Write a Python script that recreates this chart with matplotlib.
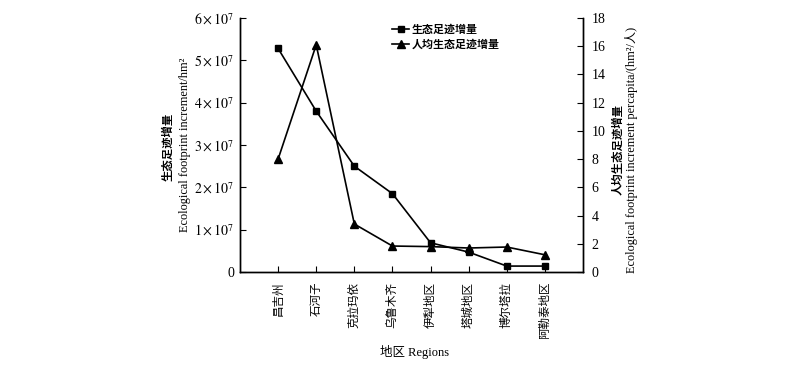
import numpy as np
import matplotlib.pyplot as plt
from matplotlib.ticker import FuncFormatter

# data
regions = ['昌吉州', '石河子', '克拉玛依', '乌鲁木齐', '伊犁地区', '塔城地区', '博尔塔拉', '阿勒泰地区']
total_inc = [5.28e7, 3.80e7, 2.50e7, 1.85e7, 0.69e7, 0.47e7, 0.14e7, 0.14e7]
percap_inc = [8.0, 16.1, 3.4, 1.84, 1.8, 1.7, 1.77, 1.22]

plt.rcParams['font.family'] = ['Liberation Serif', 'Noto Sans CJK SC', 'DejaVu Sans']
plt.rcParams['mathtext.fontset'] = 'stix'
plt.rcParams['font.size'] = 9

fig = plt.figure(figsize=(8, 3.71), dpi=100)
ax = fig.add_axes([240/800, 1 - 272/371, 343/800, 254/371])
ax2 = ax.twinx()

x = np.arange(len(regions))
l1, = ax.plot(x, total_inc, color='black', marker='s', ms=5, lw=1.2, label='生态足迹增量')
l2, = ax2.plot(x, percap_inc, color='black', marker='^', ms=6, lw=1.2, label='人均生态足迹增量')

ax.set_xlim(-1, 8)
ax.set_ylim(0, 6e7)
ax.set_yticks(np.arange(0, 7e7, 1e7))
ax.yaxis.set_major_formatter(FuncFormatter(
    lambda v, p: '0' if v == 0 else r'$%d\times10^{7}$' % round(v / 1e7)))
ax2.set_ylim(0, 18)
ax2.set_yticks(np.arange(0, 19, 2))

ax.set_xticks(x)
ax.set_xticklabels(regions, rotation=90, ha='center', va='top', fontsize=8.3)
ax.tick_params(axis='x', direction='in', length=4, pad=7)
ax.tick_params(axis='y', direction='in', length=4, pad=4, labelsize=10)
ax2.tick_params(axis='y', direction='in', length=4, pad=6, labelsize=10)

for a in (ax, ax2):
    a.spines['top'].set_visible(False)
    for s in a.spines.values():
        s.set_linewidth(1.0)

fig.text(415/800, 1 - 352/371, '地区 Regions', ha='center', va='center', fontsize=9)

# y labels, two lines each
fig.text(168/800, 1 - 147/371, '生态足迹增量', rotation=90, ha='center', va='center',
         fontsize=8.2, fontweight='bold')
fig.text(185/800, 1 - 145/371, 'Ecological footprint increment/hm²', rotation=90,
         ha='center', va='center', fontsize=8.8)
fig.text(618/800, 1 - 150/371, '人均生态足迹增量', rotation=90, ha='center', va='center',
         fontsize=8.2, fontweight='bold')
fig.text(632/800, 1 - 150/371, 'Ecological footprint increment percapita/(hm²/人)',
         rotation=90, ha='center', va='center', fontsize=8.8)

ax.legend(handles=[l1, l2], loc='upper left', bbox_to_anchor=(0.425, 1.0), frameon=False,
          handlelength=1.5, handletextpad=0.3, labelspacing=0.35, borderpad=0.1,
          prop={'size': 7.9, 'weight': 'bold'})

fig.savefig('out.png', dpi=100)
